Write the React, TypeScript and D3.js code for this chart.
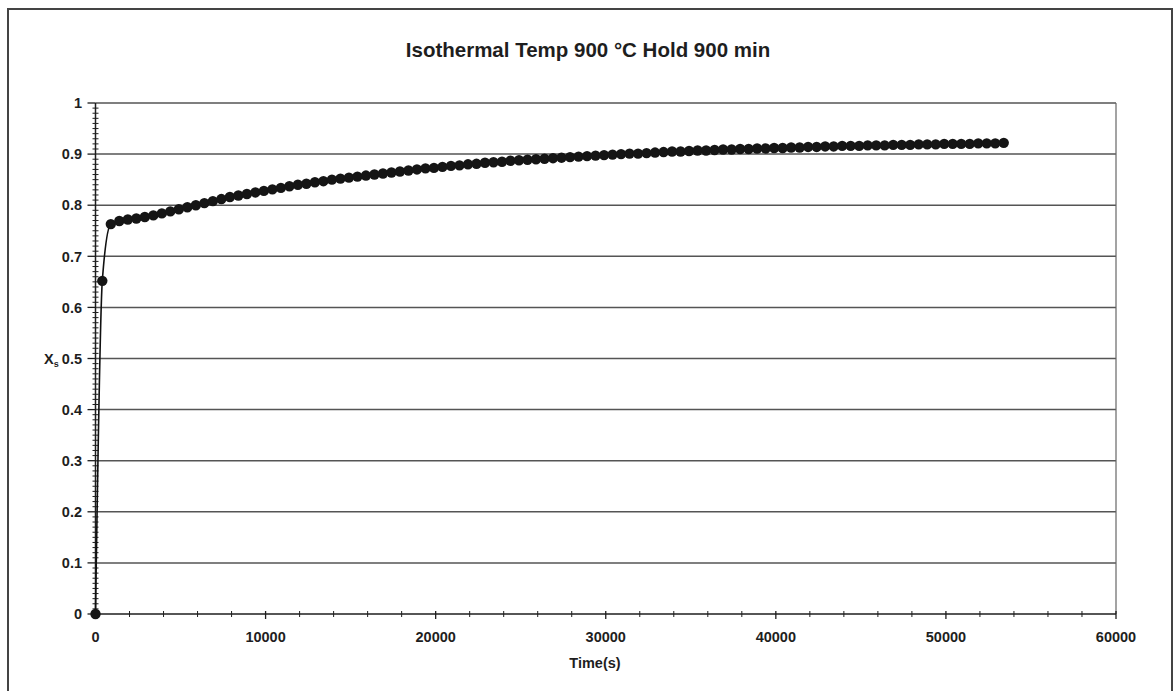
import React from "react";
import * as d3 from "d3";

const titleText = "Isothermal Temp 900 °C Hold 900 min";
const xAxisTitle = "Time(s)";
const yTickValues = [0, 0.1, 0.2, 0.3, 0.4, 0.5, 0.6, 0.7, 0.8, 0.9, 1];
const xTickValues = [0, 10000, 20000, 30000, 40000, 50000, 60000];

const timeS = [
  0, 400, 900, 1400, 1900, 2400, 2900, 3400, 3900, 4400, 4900, 5400, 5900, 6400, 6900, 7400,
  7900, 8400, 8900, 9400, 9900, 10400, 10900, 11400, 11900, 12400, 12900, 13400, 13900, 14400,
  14900, 15400, 15900, 16400, 16900, 17400, 17900, 18400, 18900, 19400, 19900, 20400, 20900,
  21400, 21900, 22400, 22900, 23400, 23900, 24400, 24900, 25400, 25900, 26400, 26900, 27400,
  27900, 28400, 28900, 29400, 29900, 30400, 30900, 31400, 31900, 32400, 32900, 33400, 33900,
  34400, 34900, 35400, 35900, 36400, 36900, 37400, 37900, 38400, 38900, 39400, 39900, 40400,
  40900, 41400, 41900, 42400, 42900, 43400, 43900, 44400, 44900, 45400, 45900, 46400, 46900,
  47400, 47900, 48400, 48900, 49400, 49900, 50400, 50900, 51400, 51900, 52400, 52900, 53400,
];

const fraction = [
  0, 0.652, 0.763, 0.769, 0.772, 0.774, 0.777, 0.78, 0.784, 0.788, 0.792, 0.796, 0.8, 0.804,
  0.808, 0.812, 0.816, 0.819, 0.822, 0.825, 0.828, 0.831, 0.834, 0.837, 0.84, 0.842, 0.845,
  0.847, 0.85, 0.852, 0.854, 0.856, 0.858, 0.86, 0.862, 0.864, 0.866, 0.868, 0.87, 0.872,
  0.873, 0.875, 0.877, 0.878, 0.88, 0.881, 0.883, 0.884, 0.885, 0.887, 0.888, 0.889, 0.89,
  0.891, 0.892, 0.893, 0.894, 0.895, 0.896, 0.897, 0.898, 0.899, 0.9, 0.901, 0.901, 0.902,
  0.903, 0.904, 0.905, 0.905, 0.906, 0.907, 0.907, 0.908, 0.909, 0.909, 0.91, 0.91, 0.911,
  0.911, 0.912, 0.912, 0.913, 0.913, 0.914, 0.914, 0.915, 0.915, 0.916, 0.916, 0.916, 0.917,
  0.917, 0.917, 0.918, 0.918, 0.918, 0.919, 0.919, 0.919, 0.92, 0.92, 0.92, 0.92, 0.921,
  0.921, 0.921, 0.922,
];

const W = 1175;
const H = 691;
const font = "Arial, 'Liberation Sans', sans-serif";

export default function App() {
  const x = d3.scaleLinear().domain([0, 60000]).range([95.5, 1116]);
  const y = d3.scaleLinear().domain([0, 1]).range([614, 103]);
  const data = timeS.map((t, i) => ({ t, v: fraction[i] }));
  const line = d3
    .line<{ t: number; v: number }>()
    .x((d) => x(d.t))
    .y((d) => y(d.v))
    .curve(d3.curveMonotoneX);

  const yMinor = d3.range(0, 101).map((i) => i / 100).filter((v) => Math.round(v * 100) % 10 !== 0);
  const xMinor = d3.range(0, 60001, 2000).filter((v) => v % 10000 !== 0);
  const ink = "#1e1e1e";
  const grid = "#555";

  return (
    <svg
      width={W}
      height={H}
      style={{ position: "absolute", left: 0, top: 0, background: "#fff" }}
      fontFamily={font}
    >
      <rect x={0} y={0} width={W} height={H} fill="#fff" />
      {/* outer chart border */}
      <rect x={8} y={9} width={1164} height={700} fill="none" stroke="#444" strokeWidth={2} />
      {/* title */}
      <text x={588} y={57} textAnchor="middle" fontSize={20.5} fontWeight="bold" fill={ink}>
        {titleText}
      </text>
      {/* gridlines */}
      {yTickValues
        .filter((v) => v > 0)
        .map((v) => (
          <line key={"g" + v} x1={x(0)} x2={x(60000)} y1={y(v)} y2={y(v)} stroke={grid} strokeWidth={1.5} />
        ))}
      {/* plot right border */}
      <line x1={x(60000)} x2={x(60000)} y1={y(1)} y2={y(0)} stroke="#666" strokeWidth={1.2} />
      {/* y axis */}
      <line x1={x(0)} x2={x(0)} y1={y(1)} y2={y(0)} stroke={ink} strokeWidth={1.5} />
      {yMinor.map((v) => (
        <line key={"ym" + v} x1={x(0) - 3} x2={x(0) + 3} y1={y(v)} y2={y(v)} stroke={ink} strokeWidth={1} />
      ))}
      {yTickValues.map((v) => (
        <g key={"yt" + v}>
          <line x1={x(0) - 8} x2={x(0)} y1={y(v)} y2={y(v)} stroke={ink} strokeWidth={1.3} />
          <text x={82} y={y(v)} dy="0.36em" textAnchor="end" fontSize={14.5} fontWeight="bold" fill={ink}>
            {String(v)}
          </text>
        </g>
      ))}
      {/* x axis */}
      <line x1={x(0)} x2={x(60000)} y1={y(0)} y2={y(0)} stroke={ink} strokeWidth={1.3} />
      {xMinor.map((v) => (
        <line key={"xm" + v} x1={x(v)} x2={x(v)} y1={y(0) - 3} y2={y(0) + 3} stroke={ink} strokeWidth={1} />
      ))}
      {xTickValues.map((v) => (
        <g key={"xt" + v}>
          <line x1={x(v)} x2={x(v)} y1={y(0) - 3} y2={y(0) + 5} stroke={ink} strokeWidth={1.3} />
          <text x={x(v)} y={642} textAnchor="middle" fontSize={14.5} fontWeight="bold" fill={ink}>
            {String(v)}
          </text>
        </g>
      ))}
      {/* axis titles */}
      <text x={595} y={668} textAnchor="middle" fontSize={14.5} fontWeight="bold" fill={ink}>
        {xAxisTitle}
      </text>
      <text x={44} y={364} fontSize={14.5} fontWeight="bold" fill={ink}>
        X<tspan fontSize={9} dy={3}>s</tspan>
      </text>
      {/* series */}
      <path d={line(data) || ""} fill="none" stroke="#111" strokeWidth={1.6} />
      {data.map((d, i) => (
        <circle key={"p" + i} cx={x(d.t)} cy={y(d.v)} r={5.2} fill="#151515" />
      ))}
    </svg>
  );
}
